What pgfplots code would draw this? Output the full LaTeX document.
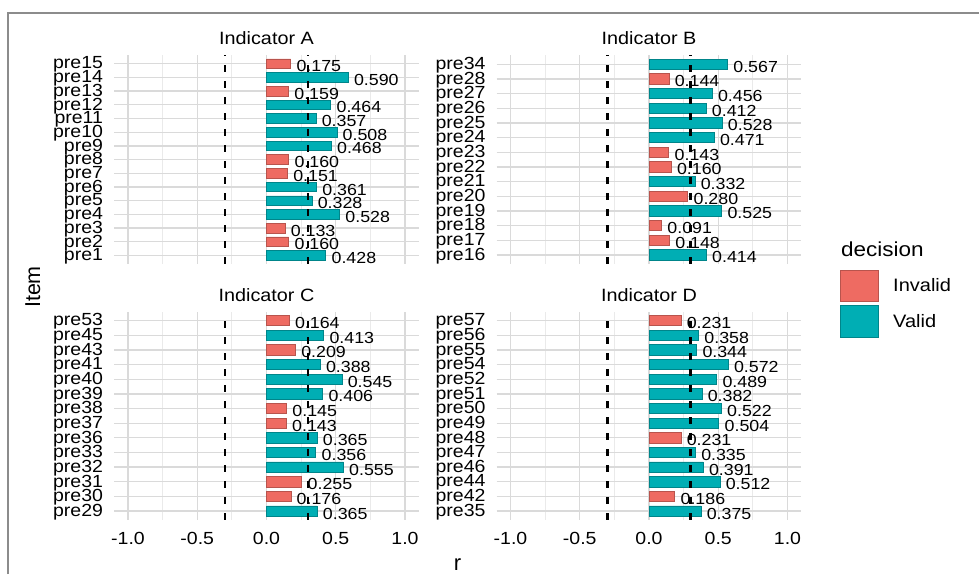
\documentclass[border=0pt]{standalone}
\usepackage{pgfplots}
\pgfplotsset{compat=1.18}
\usepackage{fontspec}
\setmainfont{Liberation Sans}
\definecolor{valfill}{HTML}{00AEB4}
\definecolor{valdraw}{HTML}{00858A}
\definecolor{invfill}{HTML}{EE6B62}
\definecolor{invdraw}{HTML}{B8544D}
\definecolor{gridmaj}{HTML}{DADADA}
\definecolor{gridmin}{HTML}{EAEAEA}
\definecolor{framec}{HTML}{8C8C8C}
\newcommand\fs[1]{\fontsize{#1}{#1}\selectfont}
\pgfplotsset{
 panel/.style={
  scale only axis, width=304.7pt, anchor=south west,
  xmin=-1.1, xmax=1.1, ymin=0.4,
  xtick={-1,-0.5,0,0.5,1},
  minor xtick={-0.75,-0.25,0.25,0.75},
  xmajorgrids, xminorgrids, ymajorgrids,
  major grid style={gridmaj, line width=1.3pt},
  minor grid style={gridmin, line width=0.8pt},
  axis line style={draw=none},
  major tick length=0pt, minor tick length=0pt,
  tick style={draw=none},
  yticklabel style={font=\fs{19.5}, anchor=east, inner sep=0pt, xshift=-11pt, yshift=-1pt, yscale=0.9},
  xticklabel style={font=\fs{19.5}, anchor=north, inner sep=0pt, yshift=-12pt, yscale=0.9},
  clip=false,
 },
 bars/.style={xbar, bar width=0.7, bar shift=0pt, line width=0.7pt,
   nodes near coords, point meta=explicit symbolic,
   every node near coord/.append style={anchor=west, inner sep=0pt, xshift=5.5pt, yshift=-2.5pt, font=\fs{17.8}, yscale=0.9, text=black}},
 inv/.style={bars, fill=invfill, draw=invdraw},
 val/.style={bars, fill=valfill, draw=valdraw},
 vl/.style={black, line width=2.6pt, dash pattern=on 6.5pt off 9.5pt, sharp plot, forget plot, mark=none},
}
\begin{document}
\begin{tikzpicture}
\useasboundingbox (0pt,0pt) rectangle (979pt,574pt);
\fill[white] (0pt,0pt) rectangle (979pt,574pt);
\draw[framec, line width=2pt] (8pt,0pt) -- (8pt,561pt) -- (979pt,561pt);

% Panel A
\begin{axis}[panel, at={(114.15pt,310.3pt)}, height=208.2pt, ymax=15.6,
  ytick={1,...,15},
  yticklabels={pre1,pre2,pre3,pre4,pre5,pre6,pre7,pre8,pre9,pre10,pre11,pre12,pre13,pre14,pre15},
  xticklabels={}]
\addplot[inv] coordinates {(0.160,2) [0.160] (0.133,3) [0.133] (0.151,7) [0.151] (0.160,8) [0.160] (0.159,13) [0.159] (0.175,15) [0.175]};
\addplot[val] coordinates {(0.428,1) [0.428] (0.528,4) [0.528] (0.328,5) [0.328] (0.361,6) [0.361] (0.468,9) [0.468] (0.508,10) [0.508] (0.357,11) [0.357] (0.464,12) [0.464] (0.590,14) [0.590]};
\addplot[vl] coordinates {(-0.3,0.4) (-0.3,15.6)};
\addplot[vl] coordinates {(0.3,0.4) (0.3,15.6)};
\end{axis}

% Panel B
\begin{axis}[panel, at={(496.65pt,310.3pt)}, height=208.2pt, ymax=14.6,
  ytick={1,...,14},
  yticklabels={pre16,pre17,pre18,pre19,pre20,pre21,pre22,pre23,pre24,pre25,pre26,pre27,pre28,pre34},
  xticklabels={}]
\addplot[inv] coordinates {(0.148,2) [0.148] (0.091,3) [0.091] (0.280,5) [0.280] (0.160,7) [0.160] (0.143,8) [0.143] (0.144,13) [0.144]};
\addplot[val] coordinates {(0.414,1) [0.414] (0.525,4) [0.525] (0.332,6) [0.332] (0.471,9) [0.471] (0.528,10) [0.528] (0.412,11) [0.412] (0.456,12) [0.456] (0.567,14) [0.567]};
\addplot[vl] coordinates {(-0.3,0.4) (-0.3,14.6)};
\addplot[vl] coordinates {(0.3,0.4) (0.3,14.6)};
\end{axis}

% Panel C
\begin{axis}[panel, at={(114.15pt,54.2pt)}, height=207.9pt, ymax=14.6,
  ytick={1,...,14},
  yticklabels={pre29,pre30,pre31,pre32,pre33,pre36,pre37,pre38,pre39,pre40,pre41,pre43,pre45,pre53},
  xticklabels={-1.0,-0.5,0.0,0.5,1.0}]
\addplot[inv] coordinates {(0.176,2) [0.176] (0.255,3) [0.255] (0.143,7) [0.143] (0.145,8) [0.145] (0.209,12) [0.209] (0.164,14) [0.164]};
\addplot[val] coordinates {(0.365,1) [0.365] (0.555,4) [0.555] (0.356,5) [0.356] (0.365,6) [0.365] (0.406,9) [0.406] (0.545,10) [0.545] (0.388,11) [0.388] (0.413,13) [0.413]};
\addplot[vl] coordinates {(-0.3,0.4) (-0.3,14.6)};
\addplot[vl] coordinates {(0.3,0.4) (0.3,14.6)};
\end{axis}

% Panel D
\begin{axis}[panel, at={(496.65pt,54.2pt)}, height=207.9pt, ymax=14.6,
  ytick={1,...,14},
  yticklabels={pre35,pre42,pre44,pre46,pre47,pre48,pre49,pre50,pre51,pre52,pre54,pre55,pre56,pre57},
  xticklabels={-1.0,-0.5,0.0,0.5,1.0}]
\addplot[inv] coordinates {(0.186,2) [0.186] (0.231,6) [0.231] (0.231,14) [0.231]};
\addplot[val] coordinates {(0.375,1) [0.375] (0.512,3) [0.512] (0.391,4) [0.391] (0.335,5) [0.335] (0.504,7) [0.504] (0.522,8) [0.522] (0.382,9) [0.382] (0.489,10) [0.489] (0.572,11) [0.572] (0.344,12) [0.344] (0.358,13) [0.358]};
\addplot[vl] coordinates {(-0.3,0.4) (-0.3,14.6)};
\addplot[vl] coordinates {(0.3,0.4) (0.3,14.6)};
\end{axis}

% Strip titles
\node[anchor=base, inner sep=0pt, font=\fs{19.8}, yscale=0.9] at (266.5pt,529pt) {Indicator A};
\node[anchor=base, inner sep=0pt, font=\fs{19.8}, yscale=0.9] at (649pt,529pt) {Indicator B};
\node[anchor=base, inner sep=0pt, font=\fs{19.8}, yscale=0.9] at (266.5pt,272.3pt) {Indicator C};
\node[anchor=base, inner sep=0pt, font=\fs{19.8}, yscale=0.9] at (649pt,272.3pt) {Indicator D};

% Axis titles
\node[rotate=90, anchor=base, inner sep=0pt, font=\fs{21.5}] at (40pt,287pt) {Item};
\node[anchor=base, inner sep=0pt, font=\fs{22}] at (457.5pt,3.5pt) {r};

% Legend
\node[anchor=base west, inner sep=0pt, font=\fs{22.5}, yscale=0.9] at (841pt,317.3pt) {decision};
\filldraw[fill=invfill, draw=invdraw, line width=0.7pt] (840pt,272.3pt) rectangle (878pt,304pt);
\filldraw[fill=valfill, draw=valdraw, line width=0.7pt] (840pt,236.7pt) rectangle (878pt,269pt);
\node[anchor=west, inner sep=0pt, font=\fs{20}, yscale=0.9] at (893pt,289pt) {Invalid};
\node[anchor=west, inner sep=0pt, font=\fs{20}, yscale=0.9] at (893pt,253.3pt) {Valid};
\end{tikzpicture}
\end{document}
